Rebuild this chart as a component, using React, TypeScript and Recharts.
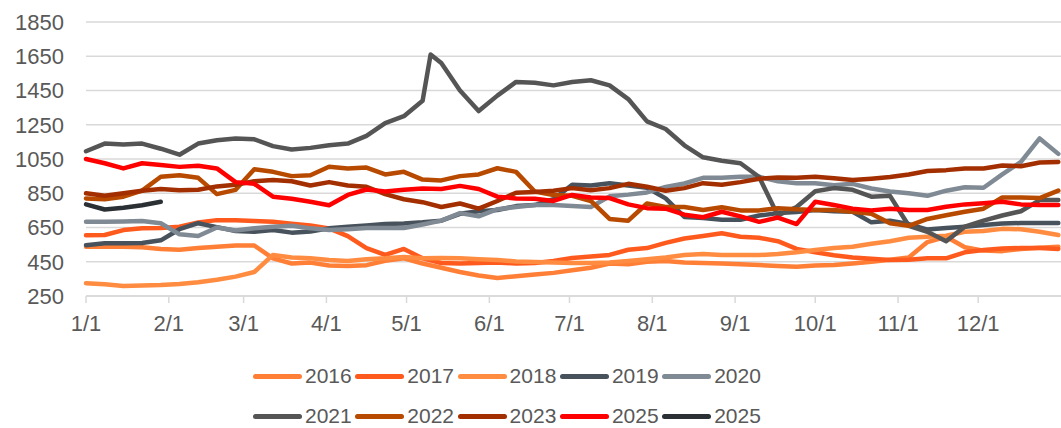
import { CartesianGrid, Line, LineChart, XAxis, YAxis } from 'recharts'

// day of year for each sample (weekly, plus the 2021 spike)
const days = [
  0, 7, 14, 21, 28, 35, 42,
  49, 56, 63, 70, 77, 84, 91,
  98, 105, 112, 119, 126, 129, 133,
  140, 147, 154, 161, 168, 175, 182,
  189, 196, 203, 210, 217, 224, 231,
  238, 245, 252, 259, 266, 273, 280,
  287, 294, 301, 308, 315, 322, 329,
  336, 343, 350, 357, 364,
]

const v2016 = [
  538, 538, 538, 535, 525, 520, 530,
  538, 545, 545, 470, 440, 445, 428,
  425, 430, 455, 470, 440, null, 415,
  390, 370, 355, 365, 375, 385, 400,
  415, 440, 435, 450, 455, 445, 442,
  440, 435, 431, 425, 421, 428, 431,
  440, 450, 462, 475, 565, 596, 535,
  515, 512, 525, 532, 538,
]

const v2017 = [
  605, 606, 635, 645, 647, 655, 680,
  693, 693, 688, 683, 672, 662, 645,
  600, 530, 490, 525, 470, null, 443,
  440, 443, 445, 440, 443, 455, 472,
  480, 490, 520, 530, 560, 586, 600,
  616, 596, 590, 570, 525, 505, 488,
  475, 468, 460, 462, 470, 470, 505,
  518, 528, 530, 530, 525,
]

const v2018 = [
  325, 318, 308, 312, 314, 320, 330,
  345, 363, 390, 490, 475, 470, 460,
  455, 465, 470, 478, 470, null, 472,
  470, 465, 460, 452, 448, 445, 443,
  443, 445, 455, 465, 475, 489, 495,
  489, 490, 489, 495, 505, 518, 530,
  538, 555, 570, 590, 596, 602, 625,
  630, 642, 640, 625, 606,
]

const v2019 = [
  547, 558, 558, 559, 575, 640, 675,
  652, 630, 625, 635, 620, 627, 645,
  655, 662, 670, 673, 680, null, 690,
  730, 745, 752, 775, 781, 815, 900,
  895, 909, 895, 882, 820, 712, 705,
  695, 695, 720, 734, 740, 752, 745,
  742, 680, 690, 670, 638, 647, 655,
  664, 674, 676, 676, 676,
]

const v2020 = [
  683, 683, 685, 688, 675, 610, 600,
  650, 632, 645, 654, 660, 645, 635,
  640, 647, 647, 647, 668, null, 690,
  734, 715, 757, 770, 781, 781, 775,
  770, 832, 842, 855, 887, 907, 940,
  940, 946, 946, 920, 909, 909, 897,
  905, 878, 860, 850, 835, 865, 885,
  882, 960, 1033, 1170, 1080,
]

const v2021 = [
  1095, 1140, 1135, 1140, 1110, 1075, 1140,
  1160, 1170, 1165, 1125, 1105, 1115, 1130,
  1140, 1185, 1260, 1300, 1390, 1660, 1610,
  1450, 1330, 1420, 1500, 1495, 1480, 1500,
  1510, 1480, 1400, 1270, 1225, 1130, 1060,
  1040, 1025, 945, 720, 770, 862, 880,
  870, 830, 835, 660, 625, 570, 655,
  690, 720, 745, 810, 810,
]

const v2022 = [
  820, 815, 830, 865, 946, 955, 940,
  845, 870, 990, 975, 950, 955, 1005,
  995, 1000, 960, 975, 930, null, 925,
  950, 960, 996, 975, 860, 840, 835,
  805, 700, 690, 790, 770, 770, 752,
  768, 750, 750, 763, 756, 752, 752,
  742, 730, 675, 660, 700, 722, 742,
  760, 825, 825, 822, 865,
]

const v2023 = [
  850, 835, 850, 865, 875, 868, 870,
  890, 900, 920, 927, 920, 895, 915,
  895, 888, 845, 815, 798, null, 770,
  790, 760, 805, 853, 858, 865, 880,
  868, 880, 905, 888, 865, 880, 909,
  900, 915, 935, 942, 940, 946, 938,
  927, 935, 945, 960, 980, 985, 995,
  995, 1012, 1008, 1030, 1033,
]

const v2025 = [
  1050, 1025, 995, 1025, 1015, 1004, 1010,
  995, 915, 905, 830, 818, 800, 780,
  840, 872, 860, 870, 878, null, 875,
  893, 875, 830, 820, 818, 805, 840,
  825, 822, 785, 763, 760, 725, 710,
  742, 715, 683, 708, 670, 800, 781,
  760, 750, 760, 752, 752, 771, 785,
  792, 800, 785, 781, 781,
]

// second 2025 series only runs through January
const v2025b = [785, 755, 765, 780, 800]

const monthTicks = [0, 31, 59, 90, 120, 151, 181, 212, 243, 273, 304, 334]
const monthLabels = ['1/1', '2/1', '3/1', '4/1', '5/1', '6/1', '7/1', '8/1', '9/1', '10/1', '11/1', '12/1']
const yTicks = [250, 450, 650, 850, 1050, 1250, 1450, 1650, 1850]

const series = [
  { key: 's2016', name: '2016', color: '#ff7f37', values: v2016 },
  { key: 's2017', name: '2017', color: '#ff5a1e', values: v2017 },
  { key: 's2018', name: '2018', color: '#ff8c40', values: v2018 },
  { key: 's2019', name: '2019', color: '#48525c', values: v2019 },
  { key: 's2020', name: '2020', color: '#808a94', values: v2020 },
  { key: 's2021', name: '2021', color: '#555555', values: v2021 },
  { key: 's2022', name: '2022', color: '#b84a00', values: v2022 },
  { key: 's2023', name: '2023', color: '#a32f00', values: v2023 },
  { key: 's2025a', name: '2025', color: '#ff0000', values: v2025 },
  { key: 's2025b', name: '2025', color: '#2b3035', values: v2025b },
]

const rows = days.map((day, i) => {
  const row: Record<string, number | null> = { day }
  series.forEach((s) => {
    row[s.key] = s.values[i] ?? null
  })
  return row
})

const font = '"Liberation Sans", Arial, sans-serif'
const textColor = '#595959'

function monthLabel(value: number) {
  const idx = monthTicks.indexOf(value)
  return idx >= 0 ? monthLabels[idx] : ''
}

function LegendBlock() {
  return (
    <div style={{ position: 'absolute', left: 0, top: 0, width: 1061, height: 428, pointerEvents: 'none' }}>
      {series.map((s, i) => {
        const col = i % 5
        const rowIdx = Math.floor(i / 5)
        return (
          <div
            key={s.key}
            style={{
              position: 'absolute',
              left: 253 + col * 102.3,
              top: 366 + rowIdx * 40,
              height: 20,
              display: 'flex',
              alignItems: 'center',
            }}
          >
            <div style={{ width: 49, height: 5, borderRadius: 3, background: s.color }} />
            <span style={{ marginLeft: 3, fontFamily: font, fontSize: 21, color: textColor, lineHeight: '20px' }}>
              {s.name}
            </span>
          </div>
        )
      })}
    </div>
  )
}

export default function App() {
  return (
    <div style={{ position: 'absolute', left: 0, top: 0, width: 1061, height: 428, background: '#fff', overflow: 'hidden' }}>
      <LineChart width={1061} height={428} data={rows} margin={{ top: 22, right: 0, bottom: 102, left: 0 }}>
        <CartesianGrid vertical={false} stroke="#d9d9d9" strokeWidth={1.5} />
        <XAxis
          dataKey="day"
          type="number"
          domain={[0, 365]}
          ticks={monthTicks}
          tickFormatter={monthLabel}
          interval={0}
          height={30}
          stroke="#d9d9d9"
          strokeWidth={1.5}
          tickSize={7}
          tickMargin={12}
          tick={{ fill: textColor, fontSize: 22, fontFamily: font }}
        />
        <YAxis
          domain={[250, 1850]}
          ticks={yTicks}
          width={86}
          axisLine={false}
          tickLine={false}
          tickSize={0}
          tickMargin={22}
          tick={{ fill: textColor, fontSize: 22, fontFamily: font }}
        />
        {series.map((s) => (
          <Line
            key={s.key}
            type="linear"
            dataKey={s.key}
            name={s.name}
            stroke={s.color}
            strokeWidth={4.5}
            strokeLinejoin="round"
            strokeLinecap="round"
            dot={false}
            activeDot={false}
            connectNulls
            isAnimationActive={false}
          />
        ))}
      </LineChart>
      <LegendBlock />
    </div>
  )
}
